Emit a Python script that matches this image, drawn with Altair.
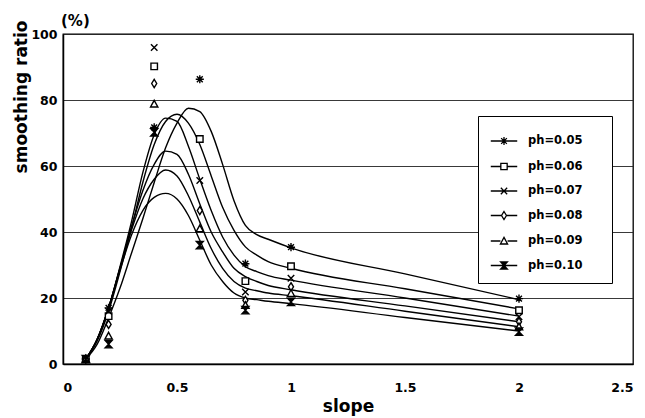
import altair as alt
import pandas as pd
import re

# ---------------- data ----------------
series_names = ["ph=0.05", "ph=0.06", "ph=0.07", "ph=0.08", "ph=0.09", "ph=0.10"]

# measured points
marker_x = [0.1, 0.2, 0.4, 0.6, 0.8, 1.0, 2.0]
m_005 = [1.5, 17.0, 71.7, 86.3, 30.4, 35.4, 19.8]
m_006 = [1.5, 14.5, 90.2, 68.2, 25.1, 29.6, 16.3]
m_007 = [1.5, 16.0, 95.9, 55.6, 21.8, 26.0, 14.3]
m_008 = [1.5, 12.0, 85.0, 46.5, 19.3, 23.4, 12.8]
m_009 = [1.5, 8.5, 78.8, 41.0, 17.8, 21.4, 11.3]
m_010 = [1.5, 6.0, 70.2, 36.0, 16.3, 18.8, 9.8]

# fitted curves
curve_x = [0.1, 0.15, 0.2, 0.25, 0.3, 0.35, 0.4, 0.45, 0.5, 0.55, 0.6, 0.65,
           0.7, 0.75, 0.8, 0.85, 0.9, 1.0, 1.5, 2.0]
c_005 = [1.5, 6.0, 14.0, 23.0, 33.5, 44.0, 55.0, 65.5, 73.0, 77.5, 76.5, 70.5,
         60.5, 49.5, 42.0, 39.2, 37.8, 35.2, 27.3, 19.5]
c_006 = [1.5, 7.0, 16.0, 28.0, 41.0, 55.0, 66.5, 73.5, 75.7, 73.0, 66.5, 57.0,
         47.5, 40.5, 35.5, 33.0, 31.0, 29.0, 22.8, 16.7]
c_007 = [1.5, 7.5, 17.0, 29.5, 43.0, 58.0, 69.5, 74.5, 73.5, 66.0, 56.0, 46.5,
         38.5, 33.0, 29.5, 28.0, 26.8, 25.4, 20.0, 14.5]
c_008 = [1.5, 7.5, 17.0, 29.0, 41.5, 52.5, 60.5, 64.5, 63.5, 57.5, 48.5, 40.0,
         34.0, 29.0, 26.5, 25.0, 23.8, 22.5, 17.6, 12.8]
c_009 = [1.5, 7.5, 17.0, 29.0, 40.5, 50.0, 56.0, 58.8, 57.0, 51.0, 43.0, 35.0,
         29.0, 25.0, 23.0, 22.2, 21.5, 20.7, 16.0, 11.3]
c_010 = [1.5, 7.5, 17.0, 28.5, 39.0, 46.5, 50.5, 51.7, 50.0, 45.0, 37.5, 30.0,
         25.0, 21.5, 20.0, 19.5, 19.0, 18.3, 14.1, 10.0]

x_ticks = [0, 0.5, 1, 1.5, 2, 2.5]
y_ticks = [0, 20, 40, 60, 80, 100]

# ---------------- tables ----------------
markers = [m_005, m_006, m_007, m_008, m_009, m_010]
curves = [c_005, c_006, c_007, c_008, c_009, c_010]

pts = pd.DataFrame([
    {"slope": x, "ratio": v, "series": s}
    for s, vals in zip(series_names, markers)
    for x, v in zip(marker_x, vals)
])
crv = pd.DataFrame([
    {"slope": x, "ratio": v, "series": s}
    for s, vals in zip(series_names, curves)
    for x, v in zip(curve_x, vals)
])

# ---------------- marker shapes ----------------
ast = "M0,-1V1M-1,0H1M-0.72,-0.72L0.72,0.72M-0.72,0.72L0.72,-0.72"
sq = "M-0.8,-0.8H0.8V0.8H-0.8Z"
xx = "M-0.8,-0.8L0.8,0.8M-0.8,0.8L0.8,-0.8"
dia = "M0,-1L0.62,0L0,1L-0.62,0Z"
tri = "M0,-0.9L0.9,0.75H-0.9Z"
hg = "M-0.85,-0.9H0.85L0,0L0.85,0.9H-0.85L0,0Z"
# stroke-only hourglass (looks filled) for the legend
hg_lines = hg + "".join(
    f"M{-0.85 * abs(t) / 0.9:.3f},{t}H{0.85 * abs(t) / 0.9:.3f}"
    for t in [-0.75, -0.6, -0.45, -0.3, -0.15, 0.15, 0.3, 0.45, 0.6, 0.75]
)
shape_paths = [ast, sq, xx, dia, tri, hg]
fills = ["white", "white", "white", "white", "white", "black"]


def small(path, k, gap):
    """scale a path for the legend and add the line stub through it"""
    out = []
    for tok in re.split(r"([MLHVZ])", path):
        if tok in ("M", "L", "H", "V", "Z"):
            out.append(tok)
        elif tok.strip():
            out.append(",".join(f"{float(p) * k:.3f}" for p in tok.split(",")))
    return "".join(out) + f"M-1,0H{-gap:.3f}M{gap:.3f},0H1"


legend_paths = [
    small(ast, 0.3, 0.0),
    small(sq, 0.3, 0.24),
    small(xx, 0.3, 0.0),
    small(dia, 0.3, 0.19),
    small(tri, 0.3, 0.27),
    small(hg_lines, 0.3, 0.0),
]

FONT = "DejaVu Sans"

x_enc = alt.X("slope:Q", scale=alt.Scale(domain=[0, 2.5], nice=False),
              axis=alt.Axis(values=x_ticks, format="~g", title="slope",
                            grid=False, ticks=False, labelPadding=17,
                            titlePadding=5))
y_enc = alt.Y("ratio:Q", scale=alt.Scale(domain=[0, 100], nice=False),
              axis=alt.Axis(values=y_ticks, title="smoothing ratio",
                            grid=True, ticks=False, labelPadding=6,
                            titleAnchor="end", titleAngle=270,
                            titleX=-42, titleY=-14, titleAlign="right",
                            titleBaseline="middle"))

lines = alt.Chart(crv).mark_line(interpolate="monotone", color="black",
                                 strokeWidth=1.4).encode(
    x=x_enc, y=y_enc, detail="series:N")

pts_layer = alt.Chart(pts).mark_point(filled=True, stroke="black", strokeWidth=1.4,
                                      opacity=1, size=66).encode(
    x="slope:Q", y="ratio:Q",
    shape=alt.Shape("series:N", scale=alt.Scale(domain=series_names, range=shape_paths),
                    legend=None),
    fill=alt.Fill("series:N", scale=alt.Scale(domain=series_names, range=fills),
                  legend=None),
)

leg = alt.Legend(title=None, orient="none", legendX=415, legendY=82,
                 symbolSize=700, symbolStrokeWidth=1.3, symbolStrokeColor="black",
                 rowPadding=4.5, padding=11, symbolOffset=1,
                 labelFont=FONT, labelFontSize=11.5, labelFontWeight="bold",
                 labelColor="black", labelOffset=10,
                 labelExpr="datum.label + '\u2800\u2800'",
                 strokeColor="black", fillColor="white")

legend_layer = alt.Chart(pts).transform_filter("false").mark_point(
    filled=False, color="black", strokeWidth=1.3, opacity=1).encode(
    x="slope:Q", y="ratio:Q",
    shape=alt.Shape("series:N", scale=alt.Scale(domain=series_names, range=legend_paths),
                    legend=leg),
)

chart = alt.layer(lines, pts_layer, legend_layer).resolve_scale(
    shape="independent"
).properties(
    width=570, height=330,
    title=alt.TitleParams("(%)", anchor="start", frame="group", font=FONT,
                          fontSize=15, fontWeight="bold", color="black",
                          dx=-2, dy=11, offset=2),
    autosize=alt.AutoSizeParams(type="none"),
    padding={"left": 55, "top": 26, "right": 4, "bottom": 56},
).configure_view(
    stroke="black", strokeWidth=1.3
).configure_axis(
    labelFont=FONT, labelFontSize=12.5, labelFontWeight="bold", labelColor="black",
    titleFont=FONT, titleFontSize=17, titleFontWeight="bold", titleColor="black",
    domainColor="black", domainWidth=1.5, gridColor="#222222", gridWidth=0.9,
)

chart.save("out.html", embed_options={"renderer": "svg", "actions": False})
